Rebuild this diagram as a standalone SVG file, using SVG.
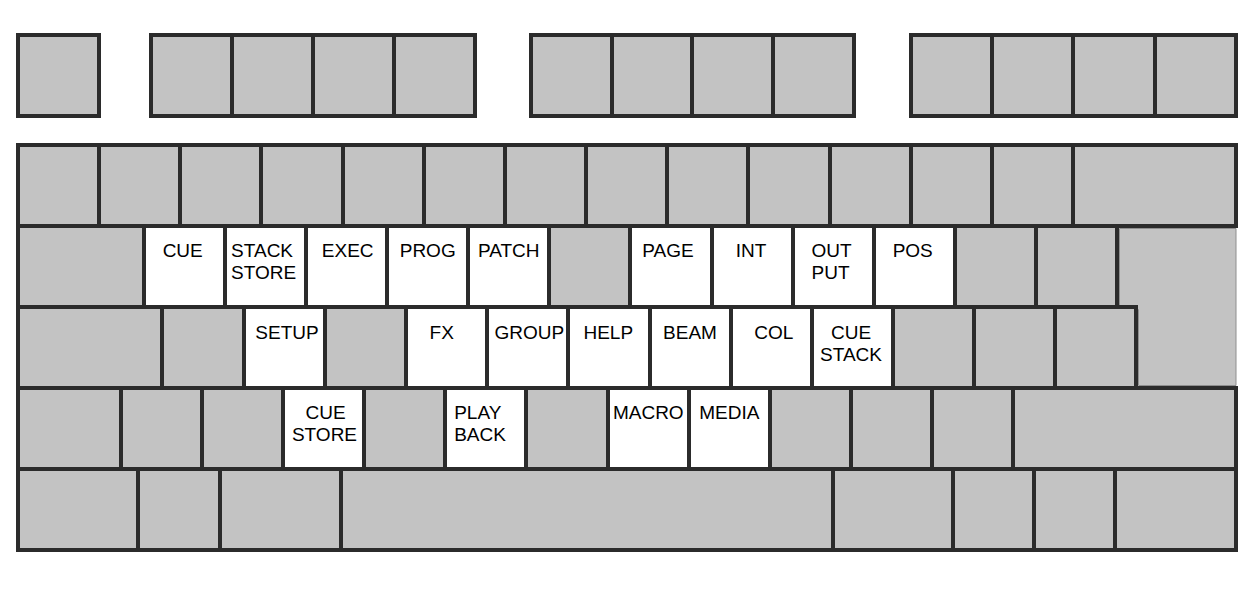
<svg xmlns="http://www.w3.org/2000/svg" width="1260" height="589" viewBox="0 0 1260 589">
<style>
.g{fill:#c3c3c3;stroke:#2b2b2b;stroke-width:4}
.w{fill:#ffffff;stroke:#2b2b2b;stroke-width:4}
.e{fill:#c3c3c3;stroke:#8e8e8e;stroke-width:1}
text{font-family:"Liberation Sans",Arial,Helvetica,sans-serif;font-size:19px;fill:#000}
.m{text-anchor:middle}
</style>
<rect width="1260" height="589" fill="#ffffff"/>
<g id="key-enter"><path class="e" d="M1119.5,228.5 H1236 V385.5 H1138.5 V309.5 H1119.5 Z"/></g>
<g id="function-row">
<g id="f0"><rect class="g" x="18" y="35" width="81" height="81"/></g>
<g id="f1"><rect class="g" x="151" y="35" width="81" height="81"/></g>
<g id="f2"><rect class="g" x="232" y="35" width="81" height="81"/></g>
<g id="f3"><rect class="g" x="313" y="35" width="81" height="81"/></g>
<g id="f4"><rect class="g" x="394" y="35" width="81" height="81"/></g>
<g id="f5"><rect class="g" x="531" y="35" width="81" height="81"/></g>
<g id="f6"><rect class="g" x="612" y="35" width="80" height="81"/></g>
<g id="f7"><rect class="g" x="692" y="35" width="81" height="81"/></g>
<g id="f8"><rect class="g" x="773" y="35" width="81" height="81"/></g>
<g id="f9"><rect class="g" x="911" y="35" width="81" height="81"/></g>
<g id="f10"><rect class="g" x="992" y="35" width="81" height="81"/></g>
<g id="f11"><rect class="g" x="1073" y="35" width="82" height="81"/></g>
<g id="f12"><rect class="g" x="1155" y="35" width="81" height="81"/></g>
</g>
<g id="row1">
<g id="r1k1"><rect class="g" x="18" y="145" width="81" height="81"/></g>
<g id="r1k2"><rect class="g" x="99" y="145" width="81" height="81"/></g>
<g id="r1k3"><rect class="g" x="180" y="145" width="81" height="81"/></g>
<g id="r1k4"><rect class="g" x="261" y="145" width="82" height="81"/></g>
<g id="r1k5"><rect class="g" x="343" y="145" width="81" height="81"/></g>
<g id="r1k6"><rect class="g" x="424" y="145" width="81" height="81"/></g>
<g id="r1k7"><rect class="g" x="505" y="145" width="81" height="81"/></g>
<g id="r1k8"><rect class="g" x="586" y="145" width="81" height="81"/></g>
<g id="r1k9"><rect class="g" x="667" y="145" width="81" height="81"/></g>
<g id="r1k10"><rect class="g" x="748" y="145" width="82" height="81"/></g>
<g id="r1k11"><rect class="g" x="830" y="145" width="81" height="81"/></g>
<g id="r1k12"><rect class="g" x="911" y="145" width="81" height="81"/></g>
<g id="r1k13"><rect class="g" x="992" y="145" width="81" height="81"/></g>
<g id="r1k14"><rect class="g" x="1073" y="145" width="163" height="81"/></g>
</g>
<g id="row2">
<g id="r2k1"><rect class="g" x="18" y="226" width="126" height="81"/></g>
<g id="key-cue"><rect class="w" x="144" y="226" width="81" height="81"/><text class="m" x="182.7" y="257">CUE</text></g>
<g id="key-stack-store"><rect class="w" x="225" y="226" width="81" height="81"/><text x="231.1" y="257">STACK</text><text x="231.1" y="279">STORE</text></g>
<g id="key-exec"><rect class="w" x="306" y="226" width="81" height="81"/><text class="m" x="347.7" y="257">EXEC</text></g>
<g id="key-prog"><rect class="w" x="387" y="226" width="81" height="81"/><text class="m" x="427.7" y="257">PROG</text></g>
<g id="key-patch"><rect class="w" x="468" y="226" width="81" height="81"/><text class="m" x="508.7" y="257">PATCH</text></g>
<g id="r2k7"><rect class="g" x="549" y="226" width="81" height="81"/></g>
<g id="key-page"><rect class="w" x="630" y="226" width="82" height="81"/><text class="m" x="668" y="257">PAGE</text></g>
<g id="key-int"><rect class="w" x="712" y="226" width="81" height="81"/><text class="m" x="751" y="257">INT</text></g>
<g id="key-output"><rect class="w" x="793" y="226" width="81" height="81"/><text x="811.6" y="257">OUT</text><text x="811.6" y="279">PUT</text></g>
<g id="key-pos"><rect class="w" x="874" y="226" width="81" height="81"/><text class="m" x="912.7" y="257">POS</text></g>
<g id="r2k12"><rect class="g" x="955" y="226" width="81" height="81"/></g>
<g id="r2k13"><rect class="g" x="1036" y="226" width="81" height="81"/></g>
</g>
<g id="row3">
<g id="r3k1"><rect class="g" x="18" y="307" width="144" height="81"/></g>
<g id="r3k2"><rect class="g" x="162" y="307" width="82" height="81"/></g>
<g id="key-setup"><rect class="w" x="244" y="307" width="81" height="81"/><text class="m" x="287" y="338.5">SETUP</text></g>
<g id="r3k4"><rect class="g" x="325" y="307" width="81" height="81"/></g>
<g id="key-fx"><rect class="w" x="406" y="307" width="81" height="81"/><text class="m" x="441.7" y="338.5">FX</text></g>
<g id="key-group"><rect class="w" x="487" y="307" width="81" height="81"/><text class="m" x="529.3" y="338.5">GROUP</text></g>
<g id="key-help"><rect class="w" x="568" y="307" width="82" height="81"/><text class="m" x="608.3" y="338.5">HELP</text></g>
<g id="key-beam"><rect class="w" x="650" y="307" width="81" height="81"/><text class="m" x="690" y="338.5">BEAM</text></g>
<g id="key-col"><rect class="w" x="731" y="307" width="81" height="81"/><text class="m" x="773.8" y="338.5">COL</text></g>
<g id="key-cue-stack"><rect class="w" x="812" y="307" width="81" height="81"/><text class="m" x="851" y="338.5">CUE</text><text class="m" x="851" y="360.5">STACK</text></g>
<g id="r3k11"><rect class="g" x="893" y="307" width="81" height="81"/></g>
<g id="r3k12"><rect class="g" x="974" y="307" width="81" height="81"/></g>
<g id="r3k13"><rect class="g" x="1055" y="307" width="81" height="81"/></g>
</g>
<g id="row4">
<g id="r4k1"><rect class="g" x="18" y="388" width="103" height="81"/></g>
<g id="r4k2"><rect class="g" x="121" y="388" width="81" height="81"/></g>
<g id="r4k3"><rect class="g" x="202" y="388" width="81" height="81"/></g>
<g id="key-cue-store"><rect class="w" x="283" y="388" width="81" height="81"/><text class="m" x="325.5" y="419">CUE</text><text class="m" x="324.5" y="441">STORE</text></g>
<g id="r4k5"><rect class="g" x="364" y="388" width="81" height="81"/></g>
<g id="key-playback"><rect class="w" x="445" y="388" width="81" height="81"/><text x="454.2" y="419">PLAY</text><text x="454.2" y="441">BACK</text></g>
<g id="r4k7"><rect class="g" x="526" y="388" width="82" height="81"/></g>
<g id="key-macro"><rect class="w" x="608" y="388" width="81" height="81"/><text class="m" x="648.3" y="419">MACRO</text></g>
<g id="key-media"><rect class="w" x="689" y="388" width="81" height="81"/><text class="m" x="729.3" y="419">MEDIA</text></g>
<g id="r4k10"><rect class="g" x="770" y="388" width="81" height="81"/></g>
<g id="r4k11"><rect class="g" x="851" y="388" width="81" height="81"/></g>
<g id="r4k12"><rect class="g" x="932" y="388" width="81" height="81"/></g>
<g id="r4k13"><rect class="g" x="1013" y="388" width="223" height="81"/></g>
</g>
<g id="row5">
<g id="r5k1"><rect class="g" x="18" y="469" width="120" height="81"/></g>
<g id="r5k2"><rect class="g" x="138" y="469" width="82" height="81"/></g>
<g id="r5k3"><rect class="g" x="220" y="469" width="121" height="81"/></g>
<g id="r5k4"><rect class="g" x="341" y="469" width="492" height="81"/></g>
<g id="r5k5"><rect class="g" x="833" y="469" width="120" height="81"/></g>
<g id="r5k6"><rect class="g" x="953" y="469" width="81" height="81"/></g>
<g id="r5k7"><rect class="g" x="1034" y="469" width="81" height="81"/></g>
<g id="r5k8"><rect class="g" x="1115" y="469" width="121" height="81"/></g>
</g>
</svg>
